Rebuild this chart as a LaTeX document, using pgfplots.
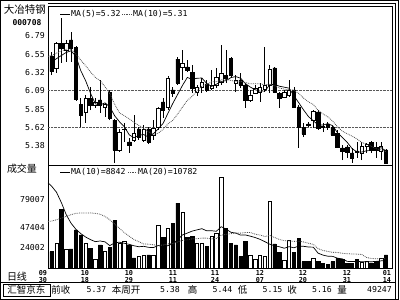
\documentclass[border=0pt]{standalone}
\usepackage{pgfplots}
\usepackage{pgfplotstable}
\pgfplotsset{compat=1.18}
\usepackage{fontspec}
\newfontfamily\mono{DejaVu Sans Mono}
\newfontfamily\cjk{Noto Sans CJK SC}
\def\tickfont{\mono\fontsize{8.2}{9}\selectfont}
% daily open / high / low / close
\pgfplotstableread{
i O H L C
0 6.534 6.585 6.290 6.332
1 6.380 6.713 6.316 6.694
2 6.700 7.021 6.444 6.636
3 6.611 6.739 6.457 6.700
4 6.739 6.845 6.461 6.636
5 6.649 6.662 5.957 5.982
6 5.918 5.995 5.623 5.777
7 5.816 6.034 5.675 5.995
8 5.995 6.136 5.841 5.905
9 5.905 5.995 5.867 5.944
10 5.970 6.226 5.803 5.905
11 5.880 5.931 5.752 5.918
12 6.072 6.098 5.713 5.739
13 5.713 5.726 5.162 5.328
14 5.328 5.598 5.303 5.559
15 5.591 5.675 5.431 5.598
16 5.431 5.482 5.290 5.393
17 5.457 5.777 5.431 5.546
18 5.598 5.623 5.457 5.495
19 5.457 5.649 5.431 5.598
20 5.598 5.623 5.405 5.431
21 5.521 5.713 5.457 5.611
22 5.623 5.880 5.585 5.867
23 5.944 5.995 5.739 5.841
24 5.880 6.277 5.841 6.252
25 6.098 6.136 6.008 6.059
26 6.495 6.521 6.162 6.187
27 6.393 6.611 6.226 6.444
28 6.393 6.483 6.328 6.354
29 6.328 6.418 6.059 6.123
30 6.072 6.162 6.021 6.136
31 6.136 6.252 6.059 6.200
32 6.175 6.226 6.072 6.098
33 6.123 6.354 6.098 6.162
34 6.162 6.380 6.123 6.264
35 6.200 6.675 6.162 6.316
36 6.290 6.611 6.187 6.252
37 6.508 6.521 6.264 6.290
38 6.187 6.290 6.072 6.226
39 6.226 6.316 6.123 6.162
40 6.162 6.175 5.867 5.961
41 5.970 6.098 5.944 6.034
42 6.059 6.162 6.046 6.123
43 6.072 6.187 5.944 6.136
44 6.111 6.649 6.072 6.162
45 6.162 6.418 6.059 6.367
46 6.380 6.393 6.059 6.072
47 6.059 6.072 5.867 5.995
48 6.008 6.098 5.995 6.072
49 6.034 6.226 6.008 6.098
50 6.098 6.136 5.867 5.880
51 5.880 5.905 5.354 5.623
52 5.623 5.675 5.495 5.534
53 5.662 5.687 5.623 5.649
54 5.713 5.841 5.611 5.828
55 5.816 5.841 5.585 5.611
56 5.629 5.675 5.559 5.617
57 5.662 5.687 5.585 5.623
58 5.623 5.630 5.508 5.521
59 5.546 5.585 5.354 5.367
60 5.354 5.393 5.200 5.316
61 5.367 5.393 5.226 5.303
62 5.290 5.354 5.162 5.226
63 5.316 5.431 5.226 5.296
64 5.290 5.431 5.200 5.370
65 5.380 5.420 5.290 5.400
66 5.430 5.440 5.290 5.320
67 5.360 5.430 5.230 5.330
68 5.310 5.430 5.200 5.370
69 5.330 5.340 5.150 5.160
}\ohlc
\begin{document}
\begin{tikzpicture}[x=1pt,y=1pt]
\useasboundingbox (0,0) rectangle (400,300);
\pgfplotsset{panel/.style={scale only axis, width=344pt, xmin=-0.76, xmax=70.24,
  xtick=\empty, major tick length=0pt, axis line style={line width=0.8pt},
  yticklabel style={font=\tickfont, inner sep=0pt, xshift=-3pt},
  scaled y ticks=false, clip=true},
  pricepanel/.style={panel, at={(48pt,135pt)}, anchor=south west, height=158.7pt,
  ymin=5.136, ymax=7.171}}
% ---------------- price panel: frame, grid, wicks ----------------
\begin{axis}[pricepanel,
  ytick={5.38,5.62,5.85,6.09,6.32,6.55,6.79},
  yticklabels={5.38,5.62,5.85,6.09,6.32,6.55,6.79},
  extra y ticks={5.62,6.09}, extra y tick labels={},
  extra y tick style={grid=major},
  grid style={densely dotted, black!65, line width=0.7pt}]
\addplot[draw=none, mark=none, error bars/.cd, y dir=plus, y explicit, error mark=none,
  error bar style={black, line width=0.8pt}]
  table[x=i, y=L, y error expr=\thisrow{H}-\thisrow{L}] {\ohlc};
\end{axis}
% ---------------- price panel: candle bodies ----------------
\begin{axis}[pricepanel, hide axis, ybar stacked, bar width=0.7]
\addplot[draw=none, fill=none] table[x=i, y expr={min(\thisrow{O},\thisrow{C})}] {\ohlc};
\addplot[draw=black, fill=black, line width=0.7pt] table[x=i, y expr={max(\thisrow{O}-\thisrow{C},0)}] {\ohlc};
\addplot[draw=black, fill=white, line width=0.7pt] table[x=i, y expr={max(\thisrow{C}-\thisrow{O},0)}] {\ohlc};
\end{axis}
% ---------------- price panel: moving averages ----------------
\begin{axis}[pricepanel, hide axis]
\addplot[black, line width=0.7pt] coordinates {
(0,6.46)(1,6.50)(2,6.54)(3,6.58)(4,6.600)(5,6.530)(6,6.346)(7,6.218)(8,6.059)(9,5.921)
(10,5.905)(11,5.933)(12,5.882)(13,5.767)(14,5.690)(15,5.628)(16,5.523)(17,5.485)(18,5.518)(19,5.526)
(20,5.493)(21,5.536)(22,5.600)(23,5.670)(24,5.800)(25,5.926)(26,6.041)(27,6.157)(28,6.259)(29,6.233)
(30,6.249)(31,6.251)(32,6.182)(33,6.144)(34,6.172)(35,6.208)(36,6.218)(37,6.257)(38,6.270)(39,6.249)
(40,6.178)(41,6.135)(42,6.101)(43,6.083)(44,6.083)(45,6.164)(46,6.172)(47,6.146)(48,6.134)(49,6.121)
(50,6.023)(51,5.934)(52,5.841)(53,5.757)(54,5.703)(55,5.649)(56,5.648)(57,5.666)(58,5.640)(59,5.548)
(60,5.489)(61,5.426)(62,5.347)(63,5.302)(64,5.302)(65,5.319)(66,5.322)(67,5.343)(68,5.358)(69,5.316)};
\addplot[black!70, densely dotted, line width=0.8pt] coordinates {
(-0.76,6.53)(0,6.54)(1,6.57)(2,6.60)(3,6.62)(4,6.62)(5,6.56)(6,6.48)(7,6.41)(8,6.33)(9,6.260)
(10,6.217)(11,6.140)(12,6.050)(13,5.913)(14,5.805)(15,5.767)(16,5.728)(17,5.684)(18,5.643)(19,5.608)
(20,5.561)(21,5.530)(22,5.543)(23,5.594)(24,5.663)(25,5.709)(26,5.789)(27,5.879)(28,5.964)(29,6.017)
(30,6.087)(31,6.146)(32,6.169)(33,6.202)(34,6.203)(35,6.228)(36,6.235)(37,6.220)(38,6.207)(39,6.211)
(40,6.193)(41,6.177)(42,6.179)(43,6.176)(44,6.166)(45,6.171)(46,6.153)(47,6.124)(48,6.108)(49,6.102)
(50,6.094)(51,6.053)(52,5.994)(53,5.945)(54,5.912)(55,5.836)(56,5.791)(57,5.754)(58,5.698)(59,5.625)
(60,5.569)(61,5.537)(62,5.506)(63,5.471)(64,5.425)(65,5.404)(66,5.374)(67,5.345)(68,5.330)(69,5.309)};
\end{axis}
% ---------------- volume panel ----------------
\begin{axis}[panel, at={(48pt,32pt)}, anchor=south west, height=103pt,
  ymin=0, ymax=119700,
  ytick={24002,47404,79007}, yticklabels={24002,47404,79007}]
\addplot[ybar, bar width=0.7, bar shift=0pt, draw=black, fill=black, line width=0.6pt] coordinates {
(0,18940)(2,68560)(4,22080)(5,44160)(6,38350)(8,23240)(10,26730)(12,24400)(13,54960)(16,26730)
(17,11620)(20,15110)(23,35670)(25,52290)(26,75530)(28,36020)(29,37180)(32,25560)(36,46480)(37,29050)
(38,26730)(39,13130)(40,30560)(46,27890)(47,17780)(50,17780)(51,34510)(52,7320)(53,7320)(55,7320)
(56,5500)(57,4500)(58,7320)(59,11270)(60,10110)(61,5000)(62,5000)(63,10110)(66,5810)(67,8130)(69,15110)};
\addplot[ybar, bar width=0.7, bar shift=0pt, draw=black, fill=white, line width=0.6pt] coordinates {
(1,28700)(3,22080)(7,29050)(9,10460)(11,18940)(14,29050)(15,31370)(18,13130)(19,15110)(21,15110)
(22,49970)(24,46480)(27,65070)(30,29050)(31,29050)(33,36370)(34,40670)(35,105740)(41,15110)(42,10460)
(43,15110)(44,13130)(45,77040)(48,9300)(49,31720)(54,11270)(64,6500)(65,7320)(68,11270)};
\addplot[black, line width=0.7pt] coordinates {
(-0.76,99000)(0,95000)(1,88000)(2,76000)(3,62000)(4,52000)(5,45000)(6,40000)(7,36000)(8,33000)(9,30600)
(10,31400)(11,30400)(12,26000)(13,29300)(14,30000)(15,28700)(16,27500)(17,25800)(18,24700)(19,25200)
(20,24000)(21,23700)(22,26200)(23,24300)(24,26000)(25,28100)(26,33000)(27,38400)(28,40600)(29,42900)
(30,44300)(31,45700)(32,43200)(33,43300)(34,42700)(35,48000)(36,45100)(37,41500)(38,40600)(39,38200)
(40,38400)(41,37000)(42,35400)(43,33300)(44,30600)(45,27700)(46,25800)(47,24700)(48,23000)(49,24800)
(50,23500)(51,25500)(52,25200)(53,24400)(54,24200)(55,17200)(56,15000)(57,13700)(58,13500)(59,11400)
(60,10600)(61,7700)(62,7500)(63,7700)(64,7300)(65,7300)(66,7300)(67,7700)(68,8300)(69,8842)};
\addplot[black!70, densely dotted, line width=0.8pt] coordinates {
(-0.76,54000)(0,54600)(1,56000)(2,58000)(3,60000)(4,62000)(5,63500)(6,64000)(7,64000)(8,64000)(9,63500)
(10,62500)(11,60000)(12,56000)(13,51000)(14,46000)(15,41000)(16,37000)(17,33000)(18,30500)(19,27900)
(20,27700)(21,27000)(22,26100)(23,26800)(24,28000)(25,28400)(26,30300)(27,32100)(28,32700)(29,34000)
(30,34100)(31,34700)(32,34700)(33,33800)(34,34400)(35,38100)(36,39100)(37,39900)(38,40600)(39,40500)
(40,41300)(41,41300)(42,39300)(43,38300)(44,36600)(45,37900)(46,35500)(47,33100)(48,31800)(49,31500)
(50,30900)(51,31200)(52,30300)(53,28800)(54,27400)(55,22500)(56,20400)(57,19200)(58,18200)(59,18100)
(60,17100)(61,16600)(62,16300)(63,16100)(64,15700)(65,12200)(66,11100)(67,10700)(68,10800)(69,10782)};
\end{axis}
% ---------------- frame ----------------
\draw[line width=1.2pt] (0.6,0.6) rectangle (398.4,299.4);
\draw[line width=0.8pt] (48,296.3) -- (395.5,296.3) -- (395.5,0.6);
\draw[line width=0.8pt] (0.6,17.5) -- (395.5,17.5);
% ---------------- texts ----------------
\node[font=\cjk\fontsize{10.5}{11}\selectfont, inner sep=0pt] at (25,290) {大冶特钢};
\node[font=\mono\bfseries\fontsize{8}{9}\selectfont, inner sep=0pt] at (27,277) {000708};
\node[font=\cjk\fontsize{10}{11}\selectfont, inner sep=0pt] at (22,131) {成交量};
\node[font=\cjk\fontsize{10}{11}\selectfont, inner sep=0pt] at (17,23.5) {日线};
\draw[line width=0.7pt] (60,286) -- (70,286);
\node[font=\tickfont, anchor=west, inner sep=0pt] at (71,286) {MA(5)=5.32};
\draw[black!70, densely dotted, line width=0.8pt] (122,286) -- (132,286);
\node[font=\tickfont, anchor=west, inner sep=0pt] at (133,286) {MA(10)=5.31};
\draw[line width=0.7pt] (60,128) -- (70,128);
\node[font=\tickfont, anchor=west, inner sep=0pt] at (71,128) {MA(10)=8842};
\draw[black!70, densely dotted, line width=0.8pt] (128,128) -- (137,128);
\node[font=\tickfont, anchor=west, inner sep=0pt] at (138,128) {MA(20)=10782};
\foreach \xx/\mm/\dd in {43/09/30, 85/10/18, 129/10/29, 173/11/11, 215/11/24, 260/12/07, 303/12/20, 347/12/31, 387/01/14}{
  \node[font=\mono\bfseries\fontsize{6.8}{6.8}\selectfont, inner sep=0pt, align=center] at (\xx,23.5) {\mm\\\dd};
}
\draw[line width=0.8pt] (3,4) rectangle (50,16);
\node[font=\cjk\fontsize{9.5}{10}\selectfont, inner sep=0pt] at (26.5,10) {汇智京东};
\node[font=\cjk\fontsize{9.5}{10}\selectfont, inner sep=0pt] at (61,10) {前收};
\node[font=\tickfont, inner sep=0pt] at (96.5,10) {5.37};
\node[font=\cjk\fontsize{9.5}{10}\selectfont, inner sep=0pt] at (126,10) {本周开};
\node[font=\tickfont, inner sep=0pt] at (170,10) {5.38};
\node[font=\cjk\fontsize{9.5}{10}\selectfont, inner sep=0pt] at (192.5,10) {高};
\node[font=\tickfont, inner sep=0pt] at (222.5,10) {5.44};
\node[font=\cjk\fontsize{9.5}{10}\selectfont, inner sep=0pt] at (242.5,10) {低};
\node[font=\tickfont, inner sep=0pt] at (272.5,10) {5.15};
\node[font=\cjk\fontsize{9.5}{10}\selectfont, inner sep=0pt] at (292,10) {收};
\node[font=\tickfont, inner sep=0pt] at (322,10) {5.16};
\node[font=\cjk\fontsize{9.5}{10}\selectfont, inner sep=0pt] at (342,10) {量};
\node[font=\tickfont, inner sep=0pt] at (379.5,10) {49247};
\end{tikzpicture}
\end{document}
